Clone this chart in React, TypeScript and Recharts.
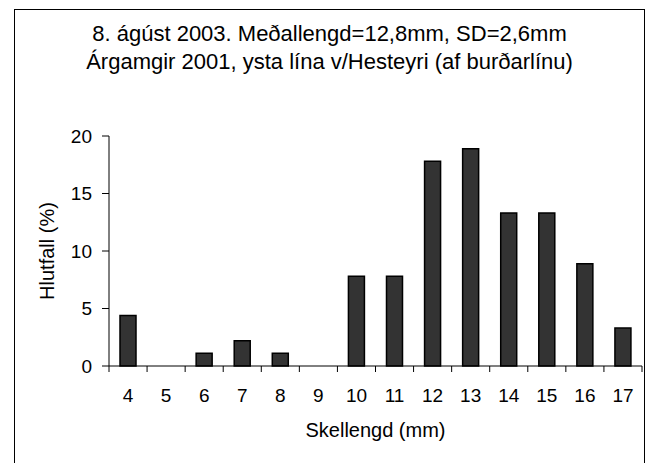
import { BarChart, Bar, XAxis, YAxis, Label } from "recharts";

// Skellengd (mm) categories and share of sample (%)
const sizes = ["4", "5", "6", "7", "8", "9", "10", "11", "12", "13", "14", "15", "16", "17"];
const shares = [4.4, 0, 1.1, 2.2, 1.1, 0, 7.8, 7.8, 17.8, 18.9, 13.3, 13.3, 8.9, 3.3];
const yTicks = [0, 5, 10, 15, 20];
const titleLines = [
  "8. ágúst 2003. Meðallengd=12,8mm, SD=2,6mm",
  "Árgamgir 2001, ysta lína v/Hesteyri (af burðarlínu)",
];

const data = sizes.map((size, i) => ({ size, share: shares[i] }));

const W = 650;
const H = 463;
const PLOT_LEFT = 109;
const PLOT_RIGHT = 642;
const PLOT_TOP = 136;
const PLOT_BOTTOM = 366;
const BAND = (PLOT_RIGHT - PLOT_LEFT) / sizes.length;

// Excel-style category axis: tick marks sit between the categories
function SizeTick(props: any) {
  const { x, y, payload, index } = props;
  const half = BAND / 2;
  return (
    <g>
      <line x1={x - half} x2={x - half} y1={PLOT_BOTTOM} y2={PLOT_BOTTOM + 6} stroke="#000" />
      {index === sizes.length - 1 && (
        <line x1={x + half} x2={x + half} y1={PLOT_BOTTOM} y2={PLOT_BOTTOM + 6} stroke="#000" />
      )}
      <text x={x} y={y} dy="0.71em" textAnchor="middle" fontSize={19} fill="#000">
        {payload.value}
      </text>
    </g>
  );
}

export default function App() {
  return (
    <div
      style={{
        position: "absolute",
        left: 0,
        top: 0,
        width: W,
        height: H,
        overflow: "hidden",
        background: "#fff",
        fontFamily: '"Liberation Sans", Arial, sans-serif',
      }}
    >
      <div
        style={{
          position: "absolute",
          left: 14,
          top: 9,
          width: 629,
          height: 520,
          border: "1px solid #000",
        }}
      />
      <div
        style={{
          position: "absolute",
          left: 14,
          top: 20,
          width: 631,
          textAlign: "center",
          fontSize: 22,
          lineHeight: "28px",
          color: "#000",
        }}
      >
        {titleLines.map((t) => (
          <div key={t}>{t}</div>
        ))}
      </div>
      <div style={{ position: "absolute", left: 0, top: 0 }}>
        <BarChart
          width={W}
          height={H}
          data={data}
          margin={{ top: PLOT_TOP, right: W - PLOT_RIGHT, left: 0, bottom: 0 }}
          barSize={16}
        >
          <XAxis
            dataKey="size"
            height={H - PLOT_BOTTOM}
            interval={0}
            tickLine={false}
            tickSize={6}
            tickMargin={17}
            axisLine={{ stroke: "#000" }}
            tick={<SizeTick />}
          >
            <Label value="Skellengd (mm)" position="insideBottom" offset={26} fontSize={20} fill="#000" />
          </XAxis>
          <YAxis
            width={PLOT_LEFT}
            domain={[0, 20]}
            ticks={yTicks}
            interval={0}
            tickSize={7}
            tickMargin={10}
            axisLine={{ stroke: "#000" }}
            tickLine={{ stroke: "#000" }}
            tick={{ fontSize: 19, fill: "#000" }}
          >
            <Label
              value="Hlutfall (%)"
              angle={-90}
              position="insideLeft"
              offset={47}
              fontSize={20}
              fill="#000"
              style={{ textAnchor: "middle" }}
            />
          </YAxis>
          <Bar dataKey="share" fill="#333333" stroke="#000" strokeWidth={1.5} isAnimationActive={false} />
        </BarChart>
      </div>
    </div>
  );
}
